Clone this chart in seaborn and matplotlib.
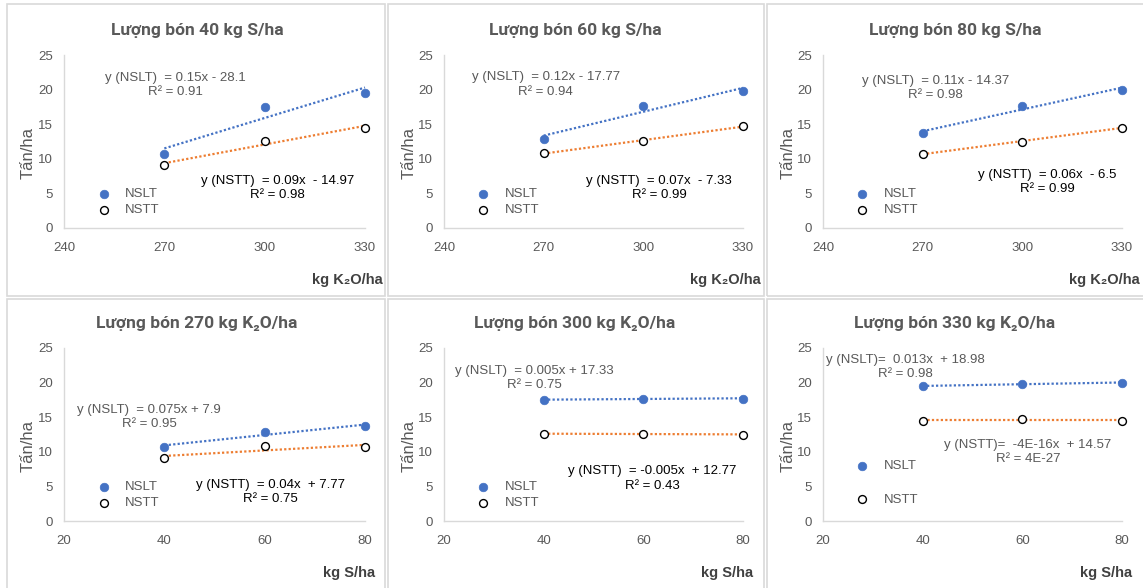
import numpy as np
import pandas as pd
import seaborn as sns
import matplotlib.pyplot as plt
from matplotlib.patches import Rectangle

# yield (tan/ha); columns follow k2o_levels
k2o_levels = [270, 300, 330]
s_levels = [40, 60, 80]

nslt_s40 = [10.7, 17.5, 19.5]
nslt_s60 = [12.9, 17.7, 19.8]
nslt_s80 = [13.7, 17.7, 20.0]
nstt_s40 = [9.1, 12.6, 14.5]
nstt_s60 = [10.8, 12.6, 14.7]
nstt_s80 = [10.7, 12.5, 14.5]

titles = ["Lượng bón 40 kg S/ha", "Lượng bón 60 kg S/ha", "Lượng bón 80 kg S/ha",
          "Lượng bón 270 kg K₂O/ha", "Lượng bón 300 kg K₂O/ha", "Lượng bón 330 kg K₂O/ha"]
eq_nslt = ["y (NSLT)  = 0.15x - 28.1\nR² = 0.91",
           "y (NSLT)  = 0.12x - 17.77\nR² = 0.94",
           "y (NSLT)  = 0.11x - 14.37\nR² = 0.98",
           "y (NSLT)  = 0.075x + 7.9\nR² = 0.95",
           "y (NSLT)  = 0.005x + 17.33\nR² = 0.75",
           "y (NSLT)=  0.013x  + 18.98\nR² = 0.98"]
eq_nstt = ["y (NSTT)  = 0.09x  - 14.97\nR² = 0.98",
           "y (NSTT)  = 0.07x  - 7.33\nR² = 0.99",
           "y (NSTT)  = 0.06x  - 6.5\nR² = 0.99",
           "y (NSTT)  = 0.04x  + 7.77\nR² = 0.75",
           "y (NSTT)  = -0.005x  + 12.77\nR² = 0.43",
           "y (NSTT)=  -4E-16x  + 14.57\nR² = 4E-27"]

by_s_nslt = [nslt_s40, nslt_s60, nslt_s80]
by_s_nstt = [nstt_s40, nstt_s60, nstt_s80]

sns.set_style("white")
plt.rcParams["font.family"] = ["Liberation Sans", "DejaVu Sans"]

W, H = 1143, 588
fig = plt.figure(figsize=(W / 100, H / 100), dpi=100)

GRAY = "#595959"
BLUE = "#4472C4"
ORANGE = "#ED7D31"

# panel borders (pixels): x0, x1, y0, y1
cols = [(7, 385), (388, 764), (767, 1150)]
rows = [(4, 296), (299, 600)]
# plot areas (pixels)
ax_cols = [(64, 365), (444, 743), (823, 1122)]
ax_rows = [(55, 228), (348, 521)]
title_x = [197, 575, 955]
title_y = [30, 324]

# positions of equation text (axes fraction)
pos_nslt = [(0.369, 0.827), (0.34, 0.83), (0.376, 0.81), (0.283, 0.60), (0.302, 0.827), (0.274, 0.892)]
pos_nstt = [(0.709, 0.231), (0.72, 0.231), (0.749, 0.268), (0.686, 0.169), (0.696, 0.246), (0.686, 0.40)]

for r in range(2):
    for c in range(3):
        i = r * 3 + c
        x0, x1 = cols[c]
        y0, y1 = rows[r]
        fig.patches.append(Rectangle((x0 / W, 1 - y1 / H), (x1 - x0) / W, (y1 - y0) / H,
                                     transform=fig.transFigure, fill=False,
                                     edgecolor="#D9D9D9", lw=1.2))
        ax0, ax1 = ax_cols[c]
        ay0, ay1 = ax_rows[r]
        ax = fig.add_axes([ax0 / W, 1 - ay1 / H, (ax1 - ax0) / W, (ay1 - ay0) / H])
        ax.patch.set_alpha(0)

        if r == 0:
            xs = k2o_levels
            nslt = by_s_nslt[c]
            nstt = by_s_nstt[c]
            xlim, xticks, xlab = (240, 330), [240, 270, 300, 330], "kg K₂O/ha"
        else:
            xs = s_levels
            nslt = [v[c] for v in by_s_nslt]
            nstt = [v[c] for v in by_s_nstt]
            xlim, xticks, xlab = (20, 80), [20, 40, 60, 80], "kg S/ha"

        df = pd.DataFrame({"x": xs, "nslt": nslt, "nstt": nstt})

        sns.regplot(data=df, x="x", y="nslt", ax=ax, scatter=False, ci=None, truncate=True,
                    line_kws=dict(color=BLUE, lw=1.6, ls=(0, (1, 1)), zorder=2, clip_on=False))
        sns.regplot(data=df, x="x", y="nstt", ax=ax, scatter=False, ci=None, truncate=True,
                    line_kws=dict(color=ORANGE, lw=1.6, ls=(0, (1, 1)), zorder=2, clip_on=False))
        sns.scatterplot(data=df, x="x", y="nslt", ax=ax, color=BLUE, s=38, edgecolor=BLUE,
                        linewidth=0.5, label="NSLT", zorder=3, clip_on=False)
        sns.scatterplot(data=df, x="x", y="nstt", ax=ax, color="white", s=32, edgecolor="black",
                        linewidth=1.0, label="NSTT", zorder=3, clip_on=False)

        ax.set_xlim(*xlim)
        ax.set_ylim(0, 25)
        ax.set_xticks(xticks)
        ax.set_yticks([0, 5, 10, 15, 20, 25])
        ax.tick_params(axis="both", length=0, labelsize=9.5, labelcolor=GRAY)
        ax.tick_params(axis="x", pad=10)
        ax.tick_params(axis="y", pad=8)
        for side in ["top", "right"]:
            ax.spines[side].set_visible(False)
        for side in ["left", "bottom"]:
            ax.spines[side].set_color("#D9D9D9")
            ax.spines[side].set_linewidth(1.0)

        ax.set_xlabel("")
        ax.set_ylabel("Tấn/ha", fontsize=12, color=GRAY)
        ax.yaxis.set_label_coords(-(ax0 - (x0 + 29)) / (ax1 - ax0), 0.435)

        w = ax1 - ax0
        ax.text(1 + (18 if r == 0 else 10) / w, -0.30, xlab, transform=ax.transAxes,
                ha="right", va="center", fontsize=10.5, fontweight="bold", color="#404040")

        ax.text(*pos_nslt[i], eq_nslt[i], transform=ax.transAxes, ha="center", va="center",
                multialignment="center", fontsize=9.5, color=GRAY, linespacing=1.25)
        ax.text(*pos_nstt[i], eq_nstt[i], transform=ax.transAxes, ha="center", va="center",
                multialignment="center", fontsize=9.5, color=GRAY if i == 5 else "black",
                linespacing=1.25)

        spacing = 1.6 if i == 5 else 0.3
        ycen = 0.22 if i == 5 else 0.15
        ax.legend(loc="center left", bbox_to_anchor=(0.11, ycen), frameon=False,
                  fontsize=9.5, labelcolor=GRAY, handlelength=1.0, handletextpad=1.1,
                  labelspacing=spacing, borderpad=0, borderaxespad=0)

        fig.text(title_x[c] / W, 1 - title_y[r] / H, titles[i], ha="center", va="center",
                 fontsize=12.5, fontweight="bold", color=GRAY,
                 family=["Roboto", "DejaVu Sans"])

fig.savefig("out.png", dpi=100, facecolor="white")
